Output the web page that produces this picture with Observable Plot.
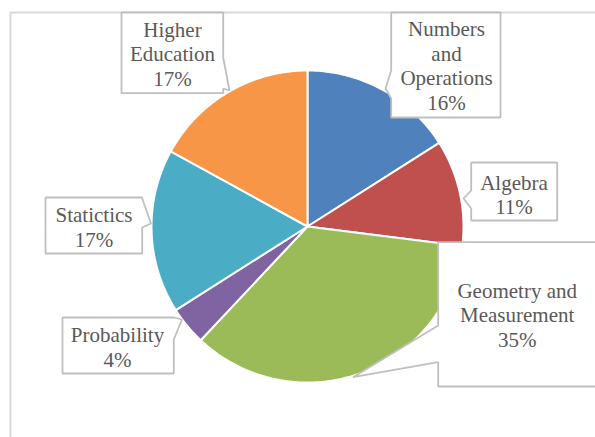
<!DOCTYPE html>
<html>
<head>
<meta charset="utf-8">
<script src="https://cdn.jsdelivr.net/npm/d3@7"></script>
<script src="https://cdn.jsdelivr.net/npm/@observablehq/plot@0.6"></script>
<style>
  html, body { margin: 0; padding: 0; background: #fff; }
  #chart svg { display: block; overflow: hidden; }
</style>
</head>
<body>
<div id="chart"></div>
<script>
// Strand shares, clockwise from twelve o'clock
const categories = ["Numbers and Operations", "Algebra", "Geometry and Measurement", "Probability", "Statictics", "Higher Education"];
const labelText = ["Numbers\nand\nOperations", "Algebra", "Geometry and\nMeasurement", "Probability", "Statictics", "Higher\nEducation"];
const percents = [16, 11, 35, 4, 17, 17];
const colors = ["#4F81BD", "#C0504D", "#9BBB59", "#8064A2", "#4BACC6", "#F79646"];

// Canvas and pie geometry (pixels)
const W = 595, H = 437;
const pie = {cx: 307, cy: 226, r: 156};

// Callout boxes: box [x1, y1, x2, y2], edge the pointer leaves from,
// pointer base [a, b] along that edge, pointer tip, text centre
const callouts = [
  {box: [390.7, 12, 500, 117], side: "left", base: [70, 98], tip: [385, 88], text: [446, 64.5]},
  {box: [470.7, 162, 556.7, 220], side: "left", base: [190, 208], tip: [463, 198], text: [513.5, 193.5]},
  {box: [437.7, 241.7, 600, 386], side: "left", base: [325, 361.7], tip: [352.5, 376.7], text: [516.7, 314]},
  {box: [62, 317, 173.3, 373], side: "right", base: [317, 339], tip: [181.5, 319], text: [117, 346]},
  {box: [45, 197, 141.7, 253], side: "right", base: [198, 227], tip: [150.5, 223], text: [93.5, 226]},
  {box: [121, 12, 222.7, 92.7], side: "right", base: [57, 88], tip: [229, 90], text: [172, 53]}
];

// Slice outlines from d3.pie angles
const arcs = d3.pie().sort(null).value(d => d)(percents);
const sliceRows = [];
arcs.forEach((a, i) => {
  const name = categories[i];
  sliceRows.push({name, x: pie.cx, y: pie.cy});
  const steps = Math.max(2, Math.ceil((a.endAngle - a.startAngle) / (Math.PI / 180)));
  for (let k = 0; k <= steps; k++) {
    const t = a.startAngle + (a.endAngle - a.startAngle) * k / steps;
    sliceRows.push({name, x: pie.cx + pie.r * Math.sin(t), y: pie.cy - pie.r * Math.cos(t)});
  }
});

// Callout outlines: rectangle with the pointer spliced into one edge
const calloutRows = [];
callouts.forEach((c, i) => {
  const [x1, y1, x2, y2] = c.box;
  const [a, b] = c.base;
  const [tx, ty] = c.tip;
  let pts;
  if (c.side === "right") {
    pts = [[x1, y1], [x2, y1], [x2, a], [tx, ty], [x2, b], [x2, y2], [x1, y2]];
  } else {
    pts = [[x1, y1], [x2, y1], [x2, y2], [x1, y2], [x1, b], [tx, ty], [x1, a]];
  }
  pts.forEach(([x, y]) => calloutRows.push({name: categories[i], x, y}));
});

const labelRows = categories.map((name, i) => ({
  name,
  x: callouts[i].text[0],
  y: callouts[i].text[1],
  label: `${labelText[i]}\n${percents[i]}%`
}));

const frameTop = [{y: 12, x1: 10, x2: W + 5}];
const frameLeft = [{x: 10, y1: 12, y2: H + 5}];

const serif = "Liberation Serif, Times New Roman, serif";

const chart = Plot.plot({
  width: W,
  height: H,
  margin: 0,
  x: {type: "linear", domain: [0, W], range: [0, W], axis: null},
  y: {type: "linear", domain: [0, H], range: [0, H], axis: null},
  color: {domain: categories, range: colors},
  style: {background: "#fff", fontFamily: serif},
  marks: [
    Plot.ruleY(frameTop, {y: "y", x1: "x1", x2: "x2", stroke: "#d9d9d9", strokeWidth: 2}),
    Plot.ruleX(frameLeft, {x: "x", y1: "y1", y2: "y2", stroke: "#d9d9d9", strokeWidth: 2}),
    Plot.line(sliceRows, {
      x: "x", y: "y", z: "name", fill: "name",
      stroke: "#fff", strokeWidth: 2, strokeLinejoin: "miter", curve: "linear-closed"
    }),
    Plot.line(calloutRows, {
      x: "x", y: "y", z: "name", fill: "#fff",
      stroke: "#bfbfbf", strokeWidth: 1.8, strokeLinejoin: "miter", curve: "linear-closed"
    }),
    Plot.text(labelRows, {
      x: "x", y: "y", text: "label",
      fill: "#595959", fontSize: 21, fontFamily: serif,
      lineHeight: 1.17, textAnchor: "middle", lineAnchor: "middle"
    })
  ]
});

document.getElementById("chart").appendChild(chart);
</script>
</body>
</html>
